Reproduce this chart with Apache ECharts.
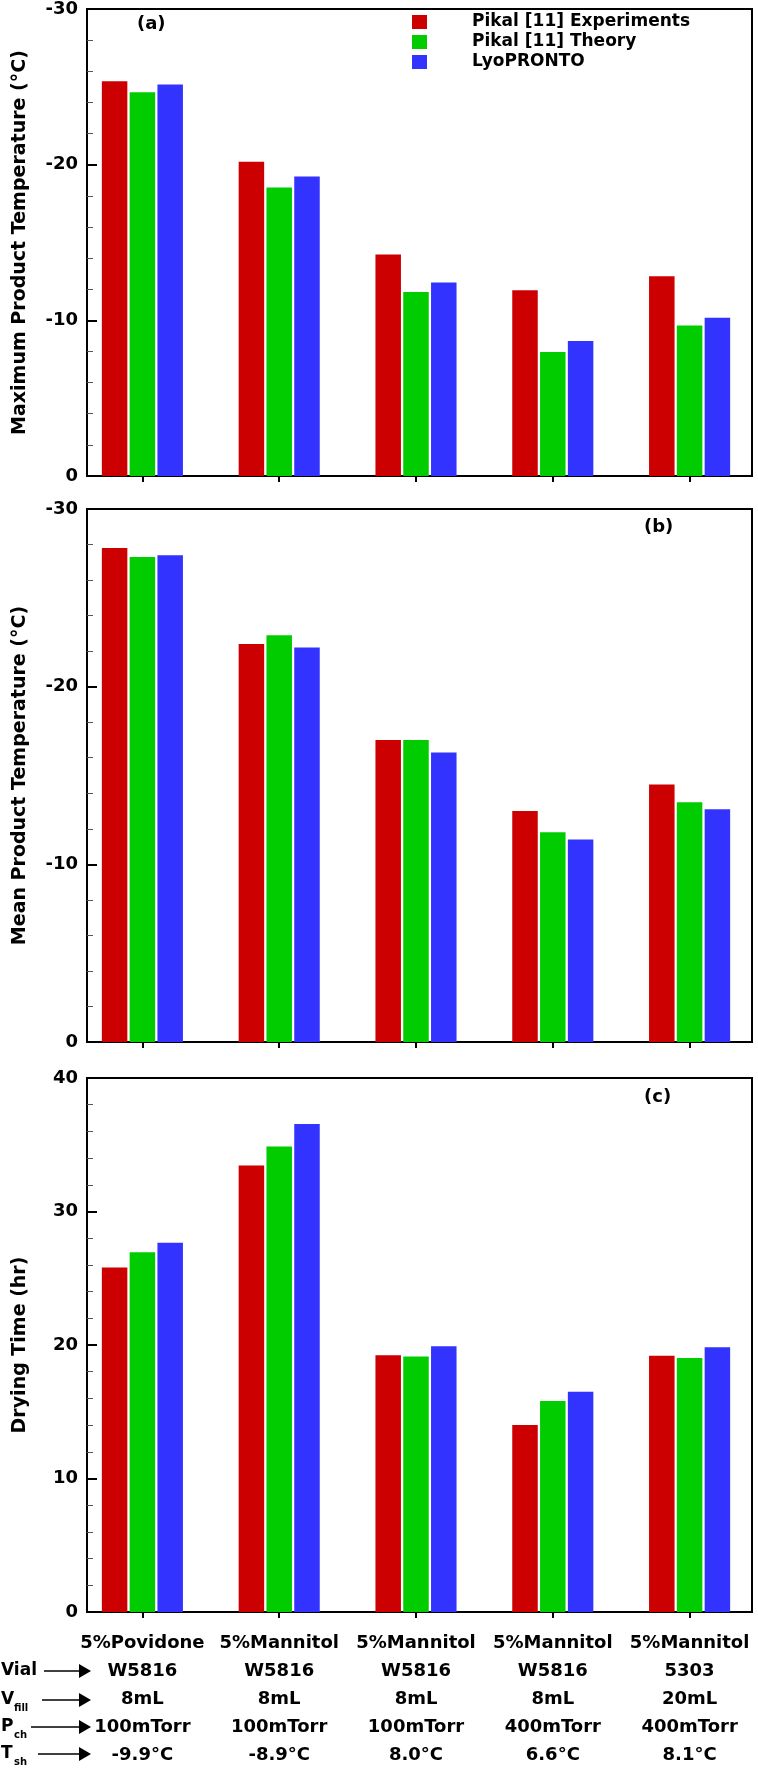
<!DOCTYPE html>
<html>
<head>
<meta charset="utf-8">
<script src="https://cdn.jsdelivr.net/npm/echarts@6/dist/echarts.min.js"></script>
<style>
html,body{margin:0;padding:0;background:#fff;}
#chart{width:758px;height:1770px;}
</style>
</head>
<body>
<div id="chart"></div>
<script>
// ---------------- data ----------------
const categories = ['5%Povidone', '5%Mannitol', '5%Mannitol', '5%Mannitol', '5%Mannitol'];
const vials = ['W5816', 'W5816', 'W5816', 'W5816', '5303'];
const fills = ['8mL', '8mL', '8mL', '8mL', '20mL'];
const pressures = ['100mTorr', '100mTorr', '100mTorr', '400mTorr', '400mTorr'];
const shelfTemps = ['-9.9°C', '-8.9°C', '8.0°C', '6.6°C', '8.1°C'];
const seriesNames = ['Pikal [11] Experiments', 'Pikal [11] Theory', 'LyoPRONTO'];

const maxExp    = [-25.3, -20.15, -14.2, -11.9, -12.8];
const maxTheory = [-24.6, -18.5, -11.8, -7.95, -9.65];
const maxLyo    = [-25.1, -19.2, -12.4, -8.65, -10.15];

const meanExp    = [-27.8, -22.4, -17.0, -13.0, -14.5];
const meanTheory = [-27.3, -22.9, -17.0, -11.8, -13.5];
const meanLyo    = [-27.4, -22.2, -16.3, -11.4, -13.1];

const dryExp    = [25.8, 33.45, 19.23, 14.0, 19.2];
const dryTheory = [26.95, 34.86, 19.13, 15.8, 19.03];
const dryLyo    = [27.65, 36.56, 19.9, 16.5, 19.83];

const panelTitles = ['Maximum Product Temperature (°C)', 'Mean Product Temperature (°C)', 'Drying Time (hr)'];
const panelTags = ['(a)', '(b)', '(c)'];
const yRanges = [[-30, 0], [-30, 0], [0, 40]];
const rowNames = ['Vial', 'V', 'P', 'T'];
const rowSubs = ['', 'fill', 'ch', 'sh'];

// ---------------- styling / layout ----------------
const FONT = '"DejaVu Sans", sans-serif';
const colors = ['#cc0000', '#00cc00', '#3333ff'];
const panels = [
  { top: 8, height: 468, inverse: true, data: [maxExp, maxTheory, maxLyo] },
  { top: 509, height: 533, inverse: true, data: [meanExp, meanTheory, meanLyo] },
  { top: 1078, height: 534, inverse: false, data: [dryExp, dryTheory, dryLyo] }
];

const grid = [], xAxis = [], yAxis = [], series = [];
const catKeys = categories.map((c, i) => String(i));

panels.forEach((p, pi) => {
  grid.push({ left: 87, top: p.top, width: 665, height: p.height, show: true,
    borderColor: '#000', borderWidth: 2, backgroundColor: 'transparent' });
  grid.push({ left: 74, top: p.top, width: 690, height: p.height, show: false });

  const fg = 2 * pi, bg = 2 * pi + 1;
  xAxis.push({ type: 'category', gridIndex: fg, data: catKeys, show: false });
  xAxis.push({ type: 'category', gridIndex: bg, data: catKeys, position: 'bottom',
    axisLine: { show: false },
    axisTick: { show: true, alignWithLabel: true, interval: 0, length: 6, lineStyle: { color: '#000', width: 2 } },
    axisLabel: pi === 2 ? {
      show: true, interval: 0, margin: 17, fontFamily: FONT, fontWeight: 'bold', fontSize: 18, color: '#000',
      lineHeight: 28,
      formatter: (v, i) => [categories[i], vials[i], fills[i], pressures[i], shelfTemps[i]].join('\n')
    } : { show: false },
    splitLine: { show: false }
  });
  xAxis.push({ type: 'category', gridIndex: bg, data: catKeys, position: 'bottom',
    axisLine: { show: false },
    axisTick: { show: true, inside: true, alignWithLabel: true, interval: 0, length: 4, lineStyle: { color: '#000', width: 2 } },
    axisLabel: { show: false }, splitLine: { show: false }
  });

  yAxis.push({ type: 'value', gridIndex: fg, min: yRanges[pi][0], max: yRanges[pi][1], interval: 10,
    inverse: p.inverse,
    name: panelTitles[pi], nameLocation: 'middle', nameGap: 57, nameRotate: 90,
    nameTextStyle: { fontFamily: FONT, fontWeight: 'bold', fontSize: 19, color: '#000' },
    axisLine: { show: true, lineStyle: { color: '#000', width: 2 } },
    axisTick: { show: true, inside: true, length: 10, lineStyle: { color: '#000', width: 2 } },
    minorTick: { show: true, splitNumber: 5, length: 6, lineStyle: { color: '#555', width: 1 } },
    axisLabel: { fontFamily: FONT, fontWeight: 'bold', fontSize: 18, color: '#000', margin: 9 },
    splitLine: { show: false }
  });
  yAxis.push({ type: 'value', gridIndex: bg, min: yRanges[pi][0], max: yRanges[pi][1],
    inverse: p.inverse, show: false });

  p.data.forEach((arr, si) => {
    series.push({
      type: 'bar', name: seriesNames[si], xAxisIndex: 3 * pi + 1, yAxisIndex: 2 * pi + 1,
      data: arr, barWidth: 25.5, barGap: '9%',
      itemStyle: { color: colors[si] }, emphasis: { disabled: true }, animation: false
    });
  });
});

// ---------------- graphics: panel tags, row labels, arrows ----------------
const graphic = [];
const tagPos = [[137, 15], [644, 518], [644, 1088]];
panelTags.forEach((t, i) => {
  graphic.push({ type: 'text', x: tagPos[i][0], y: tagPos[i][1],
    style: { text: t, font: 'bold 18px ' + FONT, fill: '#000' } });
});
const rowY = [1671, 1700, 1727, 1754];
const arrowStart = [44, 42, 31, 38];
rowNames.forEach((n, i) => {
  graphic.push({ type: 'text', x: 1, y: rowY[i],
    style: { text: n, font: 'bold 17px ' + FONT, fill: '#000', textVerticalAlign: 'middle' } });
  if (rowSubs[i]) {
    graphic.push({ type: 'text', x: 14, y: rowY[i] + 8,
      style: { text: rowSubs[i], font: 'bold 10px ' + FONT, fill: '#000', textVerticalAlign: 'middle' } });
  }
  graphic.push({ type: 'line', shape: { x1: arrowStart[i], y1: rowY[i], x2: 81, y2: rowY[i] },
    style: { stroke: '#000', lineWidth: 1.5 } });
  graphic.push({ type: 'polygon', shape: { points: [[79, rowY[i] - 7], [91, rowY[i]], [79, rowY[i] + 7]] },
    style: { fill: '#000' } });
});

const chart = echarts.init(document.getElementById('chart'), null, { renderer: 'canvas' });
chart.setOption({
  backgroundColor: '#fff',
  animation: false,
  legend: {
    data: seriesNames, orient: 'vertical', left: 412, top: 12, padding: 0,
    itemWidth: 15, itemHeight: 14, itemGap: 0, icon: 'rect',
    textStyle: { fontFamily: FONT, fontWeight: 'bold', fontSize: 17, color: '#000', lineHeight: 20,
      padding: [0, 0, 0, 40] },
    selectedMode: false
  },
  grid, xAxis, yAxis, series, graphic
});
</script>
</body>
</html>
